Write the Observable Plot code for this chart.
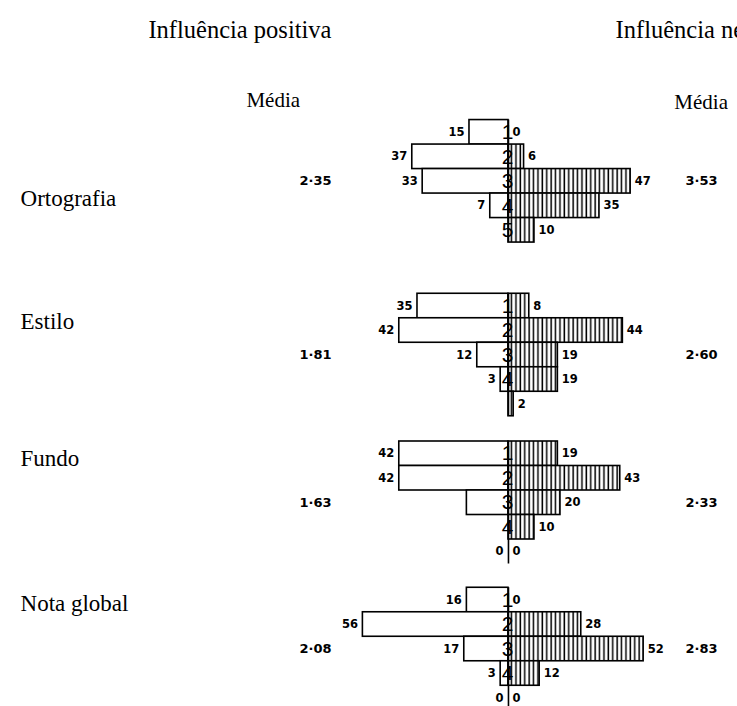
<!DOCTYPE html>
<html><head><meta charset="utf-8">
<script src="https://cdn.jsdelivr.net/npm/d3@7"></script>
<script src="https://cdn.jsdelivr.net/npm/@observablehq/plot@0.6"></script>
<style>body{margin:0;background:#fff;overflow:hidden;} #chart svg{display:block;}</style>
</head><body>
<svg width="0" height="0" style="position:absolute"><defs>
<pattern id="hatch" patternUnits="userSpaceOnUse" width="4.4" height="10">
<rect width="4.4" height="10" fill="white"/><rect x="0.4" width="1.5" height="10" fill="black"/>
</pattern></defs></svg>
<div id="chart"></div>
<script>
// ---- data ----
const categories = ["Ortografia", "Estilo", "Fundo", "Nota global"];
const scoreDigits = ["1", "2", "3", "4", "5"];

const ortografiaPos = [15, 37, 33, 7, 0];
const ortografiaNeg = [0, 6, 47, 35, 10];
const estiloPos = [35, 42, 12, 3, 0];
const estiloNeg = [8, 44, 19, 19, 2];
const fundoPos = [42, 42, 16, 0, 0];
const fundoNeg = [19, 43, 20, 10, 0];
const notaPos = [16, 56, 17, 3, 0];
const notaNeg = [0, 28, 52, 12, 0];

// printed labels (blank where the original prints none)
const ortografiaPosLabels = ["15", "37", "33", "7", ""];
const ortografiaNegLabels = ["0", "6", "47", "35", "10"];
const estiloPosLabels = ["35", "42", "12", "3", ""];
const estiloNegLabels = ["8", "44", "19", "19", "2"];
const fundoPosLabels = ["42", "42", "", "", "0"];
const fundoNegLabels = ["19", "43", "20", "10", "0"];
const notaPosLabels = ["16", "56", "17", "3", "0"];
const notaNegLabels = ["0", "28", "52", "12", "0"];

const ortografiaDigits = ["1", "2", "3", "4", "5"];
const estiloDigits = ["1", "2", "3", "4", ""];
const fundoDigits = ["1", "2", "3", "4", ""];
const notaDigits = ["1", "2", "3", "4", ""];

const posMeans = ["2·35", "1·81", "1·63", "2·08"];
const negMeans = ["3·53", "2·60", "2·33", "2·83"];

const headerPos = "Influência positiva";
const headerNeg = "Influência negativa";
const meanHeader = "Média";

// ---- layout (row units of the y scale, value units of the x scale) ----
const rowPx = 24.5;
const groupTop = [4.88, 11.97, 18.0, 23.97];
const catLabelOffset = [3.2, 1.13, 0.69, 0.64];

const posSets = [ortografiaPos, estiloPos, fundoPos, notaPos];
const negSets = [ortografiaNeg, estiloNeg, fundoNeg, notaNeg];
const posLabSets = [ortografiaPosLabels, estiloPosLabels, fundoPosLabels, notaPosLabels];
const negLabSets = [ortografiaNegLabels, estiloNegLabels, fundoNegLabels, notaNegLabels];
const digitSets = [ortografiaDigits, estiloDigits, fundoDigits, notaDigits];

const rows = [];
categories.forEach((c, g) => {
  scoreDigits.forEach((s, r) => {
    rows.push({
      g, r, cat: c,
      pos: posSets[g][r], neg: negSets[g][r],
      posLab: posLabSets[g][r], negLab: negLabSets[g][r],
      digit: digitSets[g][r],
      top: groupTop[g] + r
    });
  });
});
const groupsData = categories.map((c, g) => ({c, g, top: groupTop[g]}));

const serif = "'Liberation Serif', 'DejaVu Serif', serif";
const sans = "'Liberation Sans', 'DejaVu Sans', sans-serif";
const boldSans = "'DejaVu Sans', 'Liberation Sans', sans-serif";

const chart = Plot.plot({
  width: 737,
  height: 706,
  margin: 0,
  x: {domain: [-195.4, 88.1], axis: null},
  y: {domain: [0, 706 / rowPx], reverse: true, axis: null},
  marks: [
    // left (positive) bars
    Plot.rect(rows.filter(d => d.pos > 0), {
      x1: 0, x2: d => -d.pos, y1: d => d.top, y2: d => d.top + 1,
      fill: "white", stroke: "black", strokeWidth: 1.6
    }),
    // right (negative) bars, hatched
    Plot.rect(rows.filter(d => d.neg > 0), {
      x1: 0, x2: d => d.neg, y1: d => d.top, y2: d => d.top + 1,
      fill: "url(#hatch)", stroke: "black", strokeWidth: 1.6
    }),
    // central axis per group
    Plot.ruleX(groupsData, {x: 0, y1: d => d.top, y2: d => d.top + 5, stroke: "black", strokeWidth: 1.6}),
    // score digits on the axis
    Plot.text(rows, {
      x: 0, y: d => d.top + 0.5, text: "digit", dx: -1,
      fontSize: 21, fontFamily: sans, fill: "black"
    }),
    // value labels
    Plot.text(rows, {
      x: d => -d.pos, y: d => d.top + 0.5, text: "posLab", textAnchor: "end", dx: -5,
      fontSize: 11.5, fontWeight: "bold", fontFamily: boldSans
    }),
    Plot.text(rows, {
      x: d => d.neg, y: d => d.top + 0.5, text: "negLab", textAnchor: "start", dx: 4,
      fontSize: 11.5, fontWeight: "bold", fontFamily: boldSans
    }),
    // category names
    Plot.text(groupsData, {
      x: -187.7, y: d => d.top + catLabelOffset[d.g], text: d => categories[d.g],
      textAnchor: "start", fontSize: 23, fontFamily: serif
    }),
    // means
    Plot.text(groupsData, {
      x: -80.4, y: d => d.top + 2.5, text: d => posMeans[d.g],
      textAnchor: "start", fontSize: 13, fontWeight: "bold", fontFamily: boldSans
    }),
    Plot.text(groupsData, {
      x: 68.1, y: d => d.top + 2.5, text: d => negMeans[d.g],
      textAnchor: "start", fontSize: 13, fontWeight: "bold", fontFamily: boldSans
    }),
    // headers
    Plot.text([headerPos], {x: -138.5, y: 30 / rowPx, text: d => d, textAnchor: "start", fontSize: 24.5, fontFamily: serif}),
    Plot.text([headerNeg], {x: 41.2, y: 30 / rowPx, text: d => d, textAnchor: "start", fontSize: 24.5, fontFamily: serif}),
    Plot.text([meanHeader], {x: -100.8, y: 100 / rowPx, text: d => d, textAnchor: "start", fontSize: 21, fontFamily: serif}),
    Plot.text([meanHeader], {x: 63.8, y: 102 / rowPx, text: d => d, textAnchor: "start", fontSize: 21, fontFamily: serif})
  ]
});
document.getElementById("chart").appendChild(chart);
</script>
</body></html>
